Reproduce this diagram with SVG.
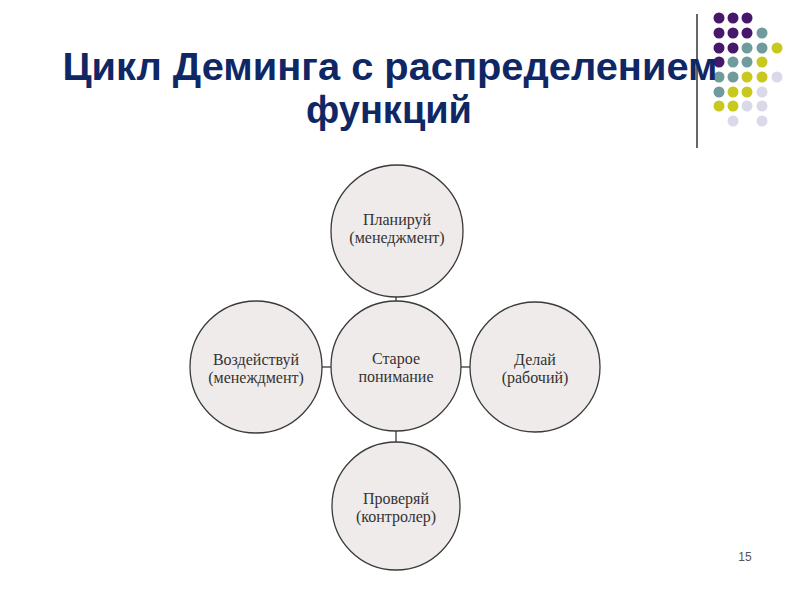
<svg xmlns="http://www.w3.org/2000/svg" width="800" height="600" viewBox="0 0 800 600">
<style>
.title{font-family:"Liberation Sans",Arial,sans-serif;font-weight:bold;font-size:38px;fill:#0F2865;text-anchor:middle}
.node circle{fill:#EFEBEB;stroke:#3a3a3a;stroke-width:1.3}
.node text{font-family:"Liberation Serif","Times New Roman",serif;font-size:16px;fill:#333;text-anchor:middle}
.conn line{stroke:#3a3a3a;stroke-width:1.3}
.p{fill:#46176B}.t{fill:#6F9B9D}.y{fill:#C9C81E}.l{fill:#D9D9EA}
</style>
<rect width="800" height="600" fill="#fff"/>
<g id="decor">
<line x1="697" y1="14" x2="697" y2="148" stroke="#000" stroke-width="1.2"/>
<circle class="p" cx="719" cy="18" r="5.5"/><circle class="p" cx="733" cy="18" r="5.5"/><circle class="p" cx="747" cy="18" r="5.5"/>
<circle class="p" cx="719" cy="33" r="5.5"/><circle class="p" cx="733" cy="33" r="5.5"/><circle class="p" cx="747" cy="33" r="5.5"/><circle class="t" cx="762" cy="33" r="5.5"/>
<circle class="p" cx="719" cy="48" r="5.5"/><circle class="p" cx="733" cy="48" r="5.5"/><circle class="t" cx="747" cy="48" r="5.5"/><circle class="t" cx="762" cy="48" r="5.5"/><circle class="y" cx="777" cy="48" r="5.5"/>
<circle class="p" cx="719" cy="62" r="5.5"/><circle class="t" cx="733" cy="62" r="5.5"/><circle class="t" cx="747" cy="62" r="5.5"/><circle class="y" cx="762" cy="62" r="5.5"/>
<circle class="t" cx="719" cy="77" r="5.5"/><circle class="t" cx="733" cy="77" r="5.5"/><circle class="y" cx="747" cy="77" r="5.5"/><circle class="y" cx="762" cy="77" r="5.5"/><circle class="l" cx="777" cy="77" r="5.5"/>
<circle class="t" cx="719" cy="92" r="5.5"/><circle class="y" cx="733" cy="92" r="5.5"/><circle class="y" cx="747" cy="92" r="5.5"/><circle class="l" cx="762" cy="92" r="5.5"/>
<circle class="y" cx="719" cy="106" r="5.5"/><circle class="y" cx="733" cy="106" r="5.5"/><circle class="l" cx="747" cy="106" r="5.5"/><circle class="l" cx="762" cy="106" r="5.5"/>
<circle class="l" cx="733" cy="121" r="5.5"/><circle class="l" cx="762" cy="121" r="5.5"/>
</g>
<g id="title">
<text class="title" x="390" y="80" textLength="655" lengthAdjust="spacingAndGlyphs">Цикл Деминга с распределением</text>
<text class="title" x="389" y="123">функций</text>
</g>
<g class="conn" id="connectors">
<line x1="396" y1="297" x2="396" y2="301"/>
<line x1="322" y1="367" x2="331" y2="367"/>
<line x1="461" y1="367" x2="470" y2="367"/>
<line x1="396" y1="431" x2="396" y2="442"/>
</g>
<g class="node" id="center"><circle cx="396" cy="366" r="65"/><text x="396" y="364">Старое</text><text x="396" y="382">понимание</text></g>
<g class="node" id="plan"><circle cx="397" cy="231" r="66"/><text x="397" y="225">Планируй</text><text x="397" y="243">(менеджмент)</text></g>
<g class="node" id="act"><circle cx="256" cy="367" r="66"/><text x="256" y="365">Воздействуй</text><text x="256" y="383">(менеждмент)</text></g>
<g class="node" id="do"><circle cx="535" cy="367" r="65"/><text x="535" y="365">Делай</text><text x="535" y="383">(рабочий)</text></g>
<g class="node" id="check"><circle cx="396" cy="506" r="64"/><text x="396" y="504">Проверяй</text><text x="396" y="522">(контролер)</text></g>
<text x="745" y="561" font-family="Liberation Sans,Arial,sans-serif" font-size="12" fill="#555" text-anchor="middle">15</text>
</svg>
